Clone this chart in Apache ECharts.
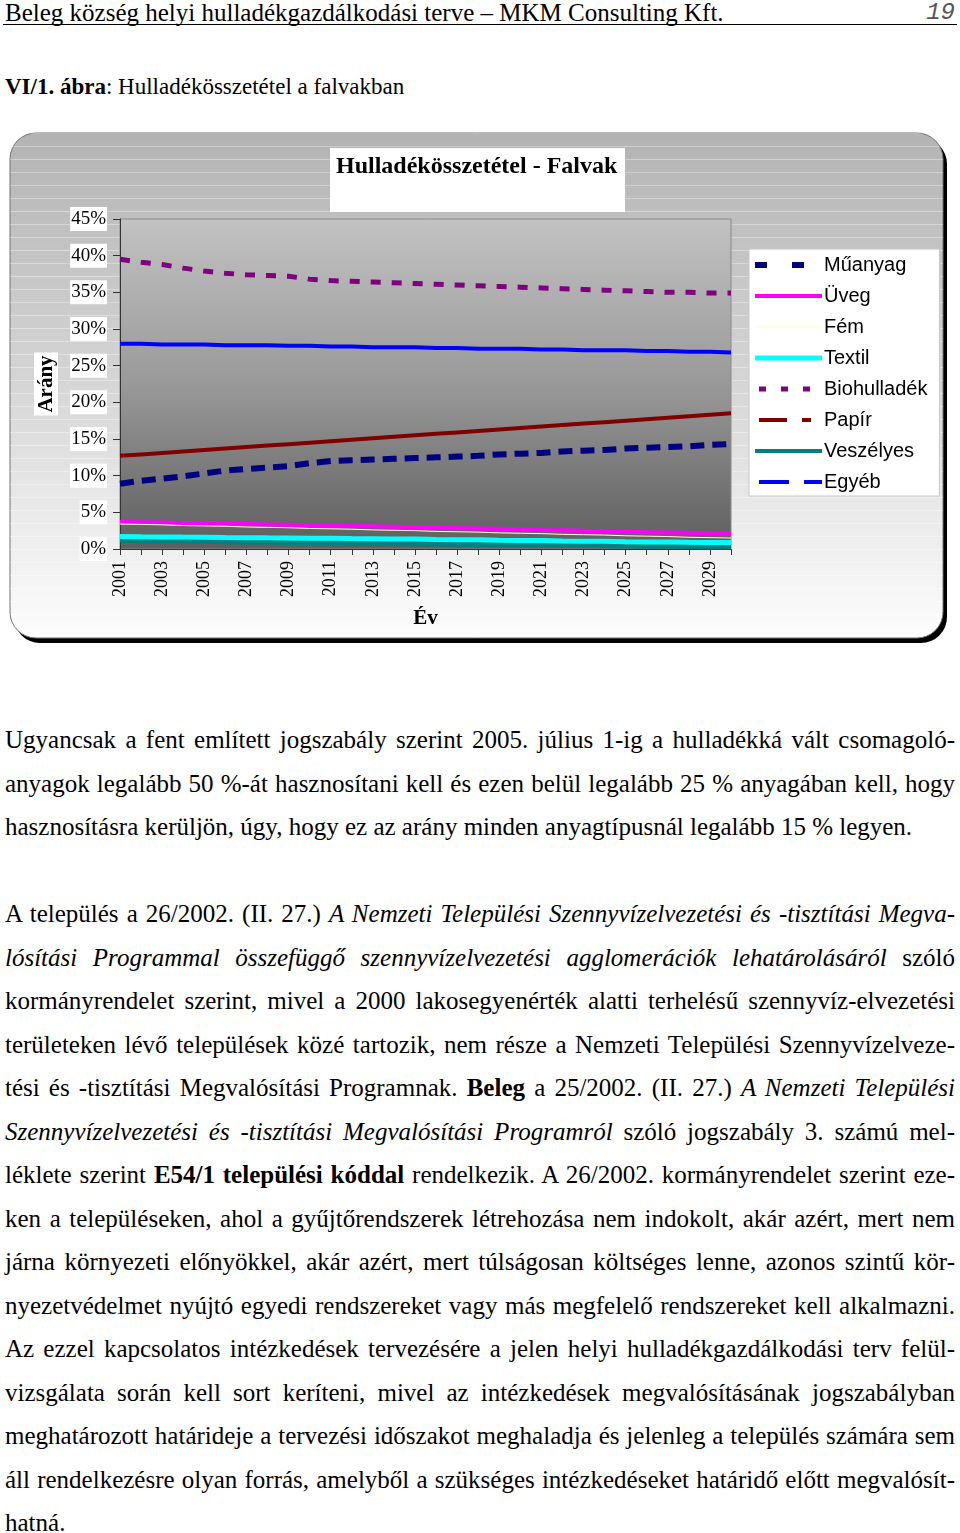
<!DOCTYPE html>
<html><head><meta charset="utf-8">
<script src="https://cdn.jsdelivr.net/npm/echarts@6/dist/echarts.min.js"></script>
<style>
html,body{margin:0;padding:0;background:#fff;}
body{width:960px;height:1533px;position:relative;overflow:hidden;font-family:"Liberation Serif","Times New Roman",serif;color:#000;}
#hdr{position:absolute;left:3px;top:0;width:954px;height:24px;border-bottom:1.5px solid #000;}
#hdr .t{position:absolute;left:2px;top:-1px;font-size:25px;line-height:27px;white-space:nowrap;}
#hdr .n{position:absolute;right:2px;top:0;font-size:24px;font-style:italic;font-family:"Liberation Mono",monospace;line-height:26px;color:#555;}
#cap{position:absolute;left:5px;top:74px;font-size:23px;line-height:26px;white-space:nowrap;}
#chart{position:absolute;left:0;top:120px;width:960px;height:540px;}
#body{position:absolute;left:5px;top:718px;width:950px;font-size:25px;}
#body div{height:43.5px;line-height:43.5px;white-space:nowrap;}
#body .j{text-align:justify;text-align-last:justify;}
</style>
</head>
<body>
<div id="hdr"><span class="t">Beleg község helyi hulladékgazdálkodási terve – MKM Consulting Kft.</span><span class="n">19</span></div>
<div id="cap"><b>VI/1. ábra</b>: Hulladékösszetétel a falvakban</div>
<div id="chart"></div>
<div id="body">
<div class="j">Ugyancsak a fent említett jogszabály szerint 2005. július 1-ig a hulladékká vált csomagoló-</div>
<div class="j">anyagok legalább 50 %-át hasznosítani kell és ezen belül legalább 25 % anyagában kell, hogy</div>
<div>hasznosításra kerüljön, úgy, hogy ez az arány minden anyagtípusnál legalább 15 % legyen.</div>
<div></div>
<div class="j">A település a 26/2002. (II. 27.) <i>A Nemzeti Települési Szennyvízelvezetési és -tisztítási Megva-</i></div>
<div class="j"><i>lósítási Programmal összefüggő szennyvízelvezetési agglomerációk lehatárolásáról</i> szóló</div>
<div class="j">kormányrendelet szerint, mivel a 2000 lakosegyenérték alatti terhelésű szennyvíz-elvezetési</div>
<div class="j">területeken lévő települések közé tartozik, nem része a Nemzeti Települési Szennyvízelveze-</div>
<div class="j">tési és -tisztítási Megvalósítási Programnak. <b>Beleg</b> a 25/2002. (II. 27.) <i>A Nemzeti Települési</i></div>
<div class="j"><i>Szennyvízelvezetési és -tisztítási Megvalósítási Programról</i> szóló jogszabály 3. számú mel-</div>
<div class="j">léklete szerint <b>E54/1 települési kóddal</b> rendelkezik. A 26/2002. kormányrendelet szerint eze-</div>
<div class="j">ken a településeken, ahol a gyűjtőrendszerek létrehozása nem indokolt, akár azért, mert nem</div>
<div class="j">járna környezeti előnyökkel, akár azért, mert túlságosan költséges lenne, azonos szintű kör-</div>
<div class="j">nyezetvédelmet nyújtó egyedi rendszereket vagy más megfelelő rendszereket kell alkalmazni.</div>
<div class="j">Az ezzel kapcsolatos intézkedések tervezésére a jelen helyi hulladékgazdálkodási terv felül-</div>
<div class="j">vizsgálata során kell sort keríteni, mivel az intézkedések megvalósításának jogszabályban</div>
<div class="j">meghatározott határideje a tervezési időszakot meghaladja és jelenleg a település számára sem</div>
<div class="j">áll rendelkezésre olyan forrás, amelyből a szükséges intézkedéseket határidő előtt megvalósít-</div>
<div>hatná.</div>
</div>
<script>
const years = ['2001','2002','2003','2004','2005','2006','2007','2008','2009','2010','2011','2012','2013','2014','2015','2016','2017','2018','2019','2020','2021','2022','2023','2024','2025','2026','2027','2028','2029','2030'];
const muanyag = [8.9,9.3,9.6,9.9,10.3,10.7,10.9,11.1,11.3,11.7,12.0,12.1,12.2,12.3,12.4,12.5,12.6,12.7,12.9,13.0,13.1,13.3,13.4,13.5,13.7,13.8,13.9,14.0,14.2,14.3];
const uveg = [3.7,3.65,3.6,3.55,3.5,3.45,3.4,3.35,3.3,3.25,3.2,3.15,3.1,3.05,3.0,2.95,2.85,2.8,2.75,2.7,2.6,2.55,2.5,2.4,2.35,2.3,2.25,2.2,2.1,2.05];
const fem = [3.4,3.35,3.3,3.2,3.15,3.1,3.0,2.95,2.9,2.8,2.75,2.7,2.6,2.55,2.5,2.4,2.35,2.3,2.2,2.15,2.1,2.0,1.95,1.9,1.8,1.75,1.7,1.6,1.55,1.5];
const textil = [1.7,1.67,1.65,1.62,1.6,1.57,1.55,1.52,1.5,1.47,1.45,1.42,1.4,1.37,1.35,1.3,1.27,1.25,1.2,1.17,1.15,1.1,1.07,1.05,1.0,0.97,0.95,0.92,0.9,0.87];
const bio = [39.5,39.1,38.8,38.3,37.9,37.6,37.4,37.3,37.2,36.8,36.6,36.5,36.4,36.3,36.2,36.1,36.0,35.9,35.8,35.7,35.6,35.5,35.4,35.3,35.2,35.1,35.0,35.0,34.9,34.9];
const papir = [12.7,12.9,13.1,13.3,13.5,13.7,13.9,14.1,14.3,14.5,14.7,14.9,15.1,15.3,15.5,15.7,15.9,16.1,16.3,16.5,16.7,16.9,17.1,17.3,17.5,17.7,17.9,18.1,18.3,18.5];
const veszelyes = [1.2,1.16,1.12,1.08,1.04,1.0,0.97,0.94,0.9,0.87,0.84,0.8,0.77,0.74,0.71,0.68,0.65,0.62,0.59,0.56,0.53,0.5,0.47,0.44,0.42,0.39,0.36,0.33,0.3,0.27];
const egyeb = [28.0,28.0,27.9,27.9,27.9,27.8,27.8,27.8,27.7,27.7,27.6,27.6,27.5,27.5,27.5,27.4,27.4,27.3,27.3,27.3,27.2,27.2,27.1,27.1,27.1,27.0,27.0,26.9,26.9,26.8];
const yTicks = [0,5,10,15,20,25,30,35,40,45];

function stripeCanvas(h, color){
  const c = document.createElement('canvas');
  c.width = 8; c.height = h;
  const g = c.getContext('2d');
  g.fillStyle = color; g.fillRect(0, 0, 8, 1);
  return c;
}
const serif = 'Liberation Serif';
const chart = echarts.init(document.getElementById('chart'));
function ser(name, data, color, width, type, z){
  return {name, type:'line', data, symbol:'none', showSymbol:false, z,
    lineStyle:{color, width, type}, itemStyle:{color}, emphasis:{disabled:true}};
}
const boxShape = {x:10, y:13, width:933, height:505, r:26};
chart.setOption({
  animation:false,
  graphic:[
    {type:'rect', z:-5, silent:true, shape:{x:14, y:18, width:933, height:505, r:26}, style:{fill:'#000'}},
    {type:'rect', z:-4, silent:true, shape:boxShape,
      style:{fill:new echarts.graphic.LinearGradient(0,0,0,1,[{offset:0,color:'#b3b3b3'},{offset:0.5,color:'#d6d6d6'},{offset:1,color:'#fdfdfd'}]), stroke:'#707070', lineWidth:1}},
    {type:'rect', z:-3, silent:true, shape:boxShape, style:{fill:{image:stripeCanvas(13,'rgba(255,255,255,0.35)'), repeat:'repeat'}}},
    {type:'rect', z:-2, silent:true, shape:{x:330, y:28, width:295, height:64}, style:{fill:'#fff'}}
  ],
  title:{text:'Hulladékösszetétel - Falvak', left:331, top:30,
    textStyle:{fontFamily:serif, fontWeight:'bold', fontSize:24, color:'#000'}},
  grid:{left:120, right:229, top:99, bottom:111, show:true, borderColor:'#8a8a8a', borderWidth:1,
    backgroundColor:new echarts.graphic.LinearGradient(0,0,0,1,[{offset:0,color:'#c2c2c2'},{offset:0.5,color:'#999999'},{offset:1,color:'#5e5e5e'}])},
  legend:{orient:'vertical', left:749, top:129, padding:[6,12,4,3], itemWidth:67, itemHeight:14, itemGap:11,
    backgroundColor:'#fff', borderColor:'#c8c8c8', borderWidth:1,
    itemStyle:{opacity:0, borderWidth:0},
    textStyle:{fontFamily:'Liberation Sans', fontSize:20, lineHeight:20, color:'#000', padding:[0,0,0,-3]},
    data:[
      {name:'Műanyag', lineStyle:{type:[12,25], width:6}},
      {name:'Üveg', lineStyle:{width:4}},
      {name:'Fém', lineStyle:{width:1}},
      {name:'Textil', lineStyle:{width:5}},
      {name:'Biohulladék', lineStyle:{type:[7,15], dashOffset:-4, width:5}},
      {name:'Papír', lineStyle:{type:[28,15,9,30], width:4}},
      {name:'Veszélyes', lineStyle:{width:4}},
      {name:'Egyéb', lineStyle:{type:[30,15,40], width:4}}
    ]},
  xAxis:{type:'category', data:years, boundaryGap:false,
    axisLine:{lineStyle:{color:'#333', width:1}},
    axisTick:{show:true, interval:0, length:6, lineStyle:{color:'#333'}},
    axisLabel:{interval:1, rotate:90, fontFamily:serif, fontSize:18, color:'#000', margin:12},
    name:'Év', nameLocation:'middle', nameGap:59,
    nameTextStyle:{fontFamily:serif, fontWeight:'bold', fontSize:21, color:'#000'}},
  yAxis:{type:'value', min:yTicks[0], max:yTicks[yTicks.length-1], interval:yTicks[1]-yTicks[0],
    axisLine:{show:true, lineStyle:{color:'#333'}},
    axisTick:{show:true, length:7, lineStyle:{color:'#333'}},
    splitLine:{show:false},
    axisLabel:{formatter:'{value}%', fontFamily:serif, fontSize:19, color:'#000', backgroundColor:'#fff', padding:[3,1,2,1], margin:13},
    name:'Arány', nameLocation:'middle', nameGap:62, nameRotate:90,
    nameTextStyle:{fontFamily:serif, fontWeight:'bold', fontSize:21, color:'#000', backgroundColor:'#fff', padding:[2,3,1,3]}},
  series:[
    ser('Műanyag', muanyag, '#000080', 6, [14,8], 3),
    ser('Üveg', uveg, '#FF00FF', 4, 'solid', 3),
    ser('Fém', fem, '#FFFFCC', 1, 'solid', 3),
    ser('Textil', textil, '#00FFFF', 5, 'solid', 3),
    ser('Biohulladék', bio, '#800080', 5, [10,11], 3),
    ser('Papír', papir, '#800000', 4, 'solid', 3),
    ser('Veszélyes', veszelyes, '#008080', 5, 'solid', 2),
    ser('Egyéb', egyeb, '#0000FF', 4, 'solid', 3)
  ]
});
</script>
</body></html>
